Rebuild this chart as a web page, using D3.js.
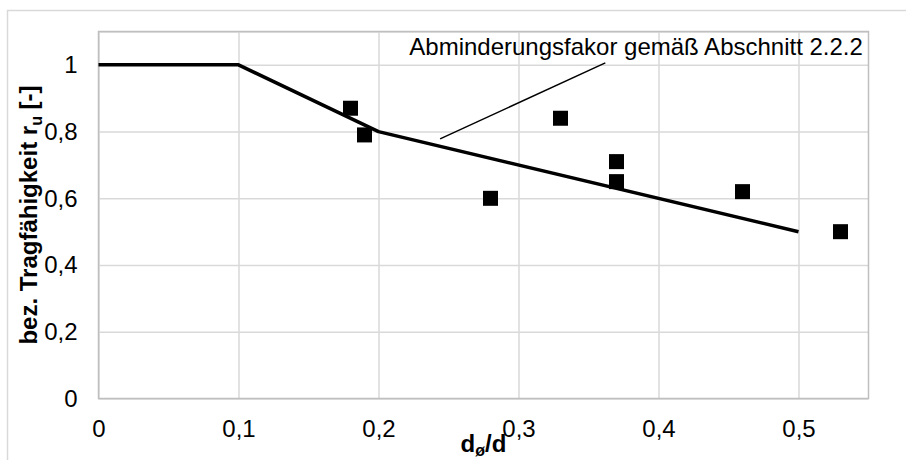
<!DOCTYPE html>
<html>
<head>
<meta charset="utf-8">
<script src="https://cdn.jsdelivr.net/npm/d3@7"></script>
<style>
  html, body { margin: 0; padding: 0; background: #fff; }
  svg { display: block; font-family: Arial, "Liberation Sans", sans-serif; }
</style>
</head>
<body>
<svg id="chart" width="906" height="460"></svg>
<script>
// Versuchswerte: bezogener Durchmesser dø/d und bezogene Tragfähigkeit r_u
const testX = [0.18, 0.19, 0.28, 0.33, 0.37, 0.37, 0.46, 0.53];
const testY = [0.87, 0.79, 0.60, 0.84, 0.71, 0.65, 0.62, 0.50];

// Abminderungsfaktor (Polygonzug)
const factorX = [0, 0.1, 0.2, 0.5];
const factorY = [1, 1, 0.8, 0.5];

// Achsenteilung
const xTicks = [0, 0.1, 0.2, 0.3, 0.4, 0.5];
const yTicks = [0, 0.2, 0.4, 0.6, 0.8, 1];
const xDomain = [0, 0.55];
const yDomain = [0, 1.1];

// Beschriftung und Hinweislinie
const noteText = "Abminderungsfakor gemäß Abschnitt 2.2.2";
const noteAnchor = [0.546, 1.03];
const leader = [[0.362, 1.006], [0.244, 0.778]];

const svg = d3.select("#chart");
const plot = { left: 98.5, right: 868.5, top: 31.5, bottom: 398.5 };

const x = d3.scaleLinear().domain(xDomain).range([plot.left, plot.right]);
const y = d3.scaleLinear().domain(yDomain).range([plot.bottom, plot.top]);
const fmt = v => String(v).replace(".", ",");

// Diagrammrahmen
svg.append("rect")
  .attr("x", 7.5).attr("y", 10.5).attr("width", 1000).attr("height", 1000)
  .attr("fill", "none").attr("stroke", "#d9d9d9").attr("stroke-width", 1.5);

// Gitterlinien
svg.append("g")
  .attr("transform", `translate(0,${plot.bottom})`)
  .call(d3.axisBottom(x).tickValues(xTicks).tickSize(-(plot.bottom - plot.top)).tickFormat(""))
  .call(g => g.select(".domain").remove())
  .call(g => g.selectAll("line").attr("stroke", "#d9d9d9").attr("stroke-width", 1.5));
svg.append("g")
  .attr("transform", `translate(${plot.left},0)`)
  .call(d3.axisLeft(y).tickValues(yTicks.concat([1.1])).tickSize(-(plot.right - plot.left)).tickFormat(""))
  .call(g => g.select(".domain").remove())
  .call(g => g.selectAll("line").attr("stroke", "#d9d9d9").attr("stroke-width", 1.5));

// Rahmen der Zeichenfläche
svg.append("rect")
  .attr("x", plot.left).attr("y", plot.top)
  .attr("width", plot.right - plot.left).attr("height", plot.bottom - plot.top)
  .attr("fill", "none").attr("stroke", "#bfbfbf").attr("stroke-width", 1.5);

// Achsenbeschriftungen
const xAxis = svg.append("g")
  .attr("transform", `translate(0,${plot.bottom})`)
  .call(d3.axisBottom(x).tickValues(xTicks).tickSize(0).tickPadding(21).tickFormat(fmt));
xAxis.select(".domain").remove();
xAxis.selectAll("text").attr("font-size", 24).attr("fill", "#000")
  .attr("font-family", "Arial, 'Liberation Sans', sans-serif");

const yAxis = svg.append("g")
  .attr("transform", `translate(${plot.left},0)`)
  .call(d3.axisLeft(y).tickValues(yTicks).tickSize(0).tickPadding(21).tickFormat(fmt));
yAxis.select(".domain").remove();
yAxis.selectAll("text").attr("font-size", 24).attr("fill", "#000")
  .attr("font-family", "Arial, 'Liberation Sans', sans-serif");

// Abminderungsfaktor
const line = d3.line().x(d => x(d[0])).y(d => y(d[1]));
svg.append("path")
  .datum(factorX.map((v, i) => [v, factorY[i]]))
  .attr("d", line)
  .attr("fill", "none").attr("stroke", "#000").attr("stroke-width", 3.5)
  .attr("stroke-linejoin", "round");

// Versuchswerte
const size = 15;
svg.append("g").selectAll("rect")
  .data(testX.map((v, i) => [v, testY[i]]))
  .join("rect")
  .attr("x", d => x(d[0]) - size / 2)
  .attr("y", d => y(d[1]) - size / 2)
  .attr("width", size).attr("height", size)
  .attr("fill", "#000");

// Hinweis
svg.append("path")
  .attr("d", line(leader))
  .attr("stroke", "#000").attr("stroke-width", 1.5).attr("fill", "none");
svg.append("text")
  .attr("x", x(noteAnchor[0])).attr("y", y(noteAnchor[1]))
  .attr("text-anchor", "end").attr("font-size", 24).attr("fill", "#000")
  .text(noteText);

// Achsentitel
const yTitle = svg.append("text")
  .attr("transform", `translate(37,${(plot.top + plot.bottom) / 2}) rotate(-90)`)
  .attr("text-anchor", "middle").attr("font-size", 24).attr("font-weight", "bold");
yTitle.append("tspan").text("bez. Tragfähigkeit r");
yTitle.append("tspan").attr("font-size", 16).attr("dy", 5).text("u");
yTitle.append("tspan").attr("dy", -5).text(" [-]");

const xTitle = svg.append("text")
  .attr("x", (plot.left + plot.right) / 2).attr("y", 452)
  .attr("text-anchor", "middle").attr("font-size", 24).attr("font-weight", "bold");
xTitle.append("tspan").text("d");
xTitle.append("tspan").attr("font-size", 16).attr("dy", 4).text("ø");
xTitle.append("tspan").attr("dy", -4).text("/d");
</script>
</body>
</html>
